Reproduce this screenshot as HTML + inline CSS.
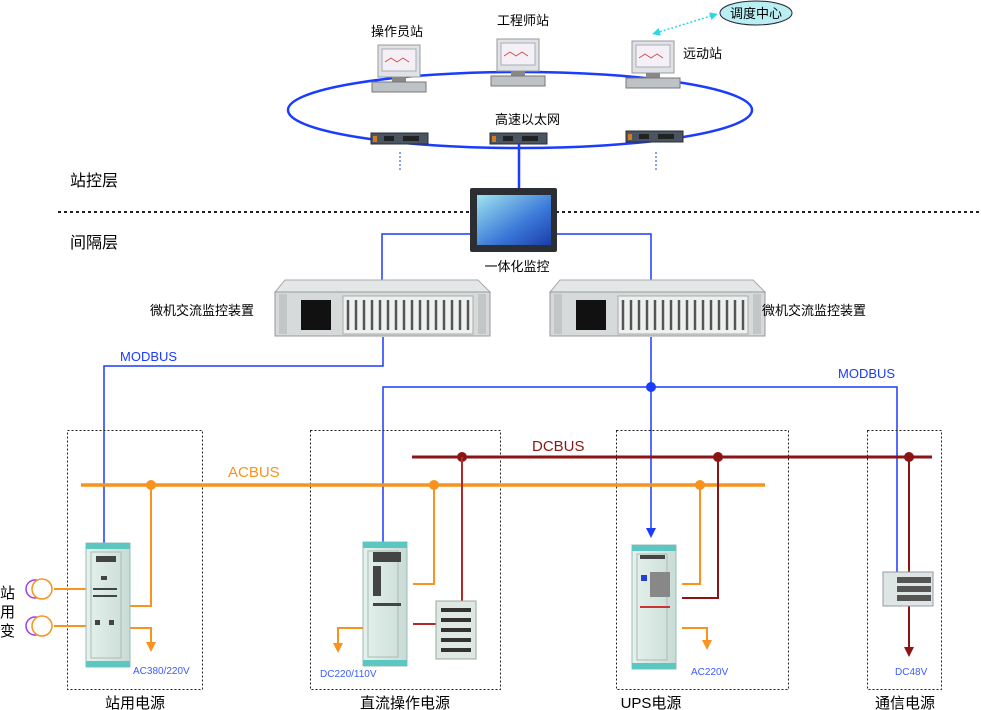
<!DOCTYPE html>
<html><head><meta charset="utf-8"><style>
html,body{margin:0;padding:0;background:#fff;width:981px;height:710px;overflow:hidden}
svg{display:block}
text{font-family:"Liberation Sans","Noto Sans CJK SC",sans-serif}
</style></head><body>
<svg width="981" height="710" viewBox="0 0 981 710" xmlns="http://www.w3.org/2000/svg">
<defs>
<marker id="ao" markerWidth="10" markerHeight="10" refX="5" refY="5" orient="auto" markerUnits="userSpaceOnUse"><path d="M0,0 L10,5 L0,10 z" fill="#f7931e"/></marker>
<marker id="ar" markerWidth="10" markerHeight="10" refX="5" refY="5" orient="auto" markerUnits="userSpaceOnUse"><path d="M0,0 L10,5 L0,10 z" fill="#8b1515"/></marker>
<marker id="ab" markerWidth="10" markerHeight="10" refX="5" refY="5" orient="auto" markerUnits="userSpaceOnUse"><path d="M0,0 L10,5 L0,10 z" fill="#1a3cff"/></marker>
<marker id="ac" markerWidth="8" markerHeight="8" refX="4" refY="4" orient="auto" markerUnits="userSpaceOnUse"><path d="M0,0 L8,4 L0,8 z" fill="#2bd6e6"/></marker>
<marker id="ac2" markerWidth="8" markerHeight="8" refX="4" refY="4" orient="auto-start-reverse" markerUnits="userSpaceOnUse"><path d="M0,0 L8,4 L0,8 z" fill="#2bd6e6"/></marker>
<linearGradient id="cab" x1="0" x2="1"><stop offset="0" stop-color="#e6f2ee"/><stop offset="1" stop-color="#c9dbd5"/></linearGradient>
<linearGradient id="scr" x1="0" y1="0" x2="1" y2="1"><stop offset="0" stop-color="#9fe3ef"/><stop offset="0.6" stop-color="#3b78d8"/><stop offset="1" stop-color="#1b3da8"/></linearGradient>
</defs>

<!-- top ring -->
<ellipse cx="520" cy="110" rx="232" ry="38" fill="none" stroke="#1a3cff" stroke-width="2.5"/>
<!-- computers -->
<g id="pc">
<rect x="378" y="45" width="42" height="32" fill="#dfe3e6" stroke="#999"/>
<rect x="382" y="49" width="34" height="22" fill="#f4f0f6" stroke="#aab"/>
<path d="M385,62 l6,-4 l6,4 l6,-4 l6,4" stroke="#c44" fill="none" stroke-width="0.8"/>
<rect x="392" y="77" width="14" height="5" fill="#888"/>
<rect x="372" y="82" width="54" height="10" fill="#bcc2c6" stroke="#777"/>
</g>
<use href="#pc" x="119" y="-6"/>
<use href="#pc" x="254" y="-4"/>
<!-- switches -->
<g id="sw"><rect x="371" y="133" width="57" height="11" fill="#4a5561" stroke="#2a2f35"/><rect x="373" y="136" width="4" height="6" fill="#d67a1e"/><rect x="384" y="136" width="10" height="5" fill="#222"/><rect x="403" y="136" width="16" height="5" fill="#222"/></g>
<use href="#sw" x="119" y="0"/>
<use href="#sw" x="255" y="-2"/>
<line x1="400" y1="152" x2="400" y2="172" stroke="#1a3cff" stroke-dasharray="2,2"/>
<line x1="656" y1="152" x2="656" y2="172" stroke="#1a3cff" stroke-dasharray="2,2"/>
<line x1="519" y1="144" x2="519" y2="190" stroke="#1a3cff" stroke-width="2.5"/>
<text x="371" y="36" font-size="13">操作员站</text>
<text x="497" y="25" font-size="13">工程师站</text>
<text x="683" y="58" font-size="13">远动站</text>
<text x="495" y="124" font-size="13">高速以太网</text>
<ellipse cx="756" cy="13" rx="36" ry="12" fill="#b9eef2" stroke="#223" stroke-width="1"/>
<text x="756" y="18" font-size="13" text-anchor="middle">调度中心</text>
<line x1="656" y1="33" x2="714" y2="15" stroke="#2bd6e6" stroke-width="1.5" stroke-dasharray="2,2" marker-start="url(#ac2)" marker-end="url(#ac)"/>

<text x="70" y="186" font-size="16">站控层</text>
<line x1="58" y1="212" x2="981" y2="212" stroke="#222" stroke-width="2" stroke-dasharray="3,3"/>
<text x="70" y="248" font-size="16">间隔层</text>

<!-- monitor -->
<rect x="470" y="188" width="87" height="64" fill="#2b2f33" rx="2"/>
<rect x="477" y="195" width="74" height="50" fill="url(#scr)"/>
<text x="517" y="271" font-size="13" text-anchor="middle">一体化监控</text>
<polyline points="470,234 382,234 382,280" fill="none" stroke="#1a3cff" stroke-width="1.5"/>
<polyline points="557,234 651,234 651,280" fill="none" stroke="#1a3cff" stroke-width="1.5"/>

<!-- rack devices -->
<g id="rk">
<path d="M285,280 L478,280 L490,292 L275,292 z" fill="#e4e7e8" stroke="#aaa"/>
<rect x="275" y="292" width="215" height="44" fill="#d7dadb" stroke="#999"/>
<rect x="279" y="294" width="8" height="40" fill="#c3c6c7"/>
<rect x="478" y="294" width="8" height="40" fill="#c3c6c7"/>
<rect x="301" y="300" width="30" height="30" fill="#111"/>
<rect x="343" y="296" width="130" height="38" fill="#eef0f0" stroke="#aaa"/>
<path d="M348,300 v30 M356,300 v30 M364,300 v30 M372,300 v30 M380,300 v30 M388,300 v30 M396,300 v30 M404,300 v30 M412,300 v30 M420,300 v30 M428,300 v30 M436,300 v30 M444,300 v30 M452,300 v30 M460,300 v30 M468,300 v30" stroke="#555" stroke-width="2.5"/>
</g>
<use href="#rk" x="275" y="0"/>
<text x="150" y="315" font-size="13">微机交流监控装置</text>
<text x="762" y="315" font-size="13">微机交流监控装置</text>

<!-- modbus -->
<polyline points="383,337 383,366 104,366 104,543" fill="none" stroke="#1a3cff" stroke-width="1.5"/>
<text x="120" y="361" font-size="13" fill="#1a3cff">MODBUS</text>
<line x1="651" y1="337" x2="651" y2="533" stroke="#1a3cff" stroke-width="1.5" marker-end="url(#ab)"/>
<polyline points="383,542 383,387 897,387 897,572" fill="none" stroke="#1a3cff" stroke-width="1.5"/>
<circle cx="651" cy="387" r="5" fill="#1a3cff"/>
<text x="838" y="378" font-size="13" fill="#1a3cff">MODBUS</text>

<!-- dotted boxes -->
<g fill="none" stroke="#222" stroke-width="1" stroke-dasharray="2,2">
<rect x="67.5" y="430.5" width="135" height="259"/>
<rect x="310.5" y="430.5" width="190" height="259"/>
<rect x="616.5" y="430.5" width="172" height="259"/>
<rect x="867.5" y="430.5" width="74" height="259"/>
</g>
<g font-size="15" text-anchor="middle">
<text x="135" y="708">站用电源</text>
<text x="405" y="708">直流操作电源</text>
<text x="651" y="708">UPS电源</text>
<text x="905" y="708">通信电源</text>
</g>

<!-- buses -->
<line x1="412" y1="457" x2="932" y2="457" stroke="#8b1515" stroke-width="3"/>
<text x="532" y="451" font-size="15" fill="#8b1515">DCBUS</text>
<line x1="81" y1="485" x2="765" y2="485" stroke="#f7931e" stroke-width="3.5"/>
<text x="228" y="477" font-size="15" fill="#f7931e">ACBUS</text>
<g fill="#8b1515"><circle cx="462" cy="457" r="5"/><circle cx="718" cy="457" r="5"/><circle cx="909" cy="457" r="5"/></g>
<g fill="#f7931e"><circle cx="151" cy="485" r="5"/><circle cx="434" cy="485" r="5"/><circle cx="700" cy="485" r="5"/></g>

<!-- cabinet 1 -->
<g fill="none" stroke="#f7931e" stroke-width="2">
<polyline points="151,485 151,606 130,606"/>
<polyline points="130,628 151,628 151,647" marker-end="url(#ao)"/>
<line x1="54" y1="589" x2="86" y2="589"/><line x1="54" y1="626" x2="86" y2="626"/>
</g>
<g fill="none" stroke-width="1.5">
<circle cx="35" cy="589" r="9" stroke="#9b3cf0"/><circle cx="42" cy="589" r="10" stroke="#f7931e" fill="#fff"/>
<circle cx="35" cy="626" r="9" stroke="#9b3cf0"/><circle cx="42" cy="626" r="10" stroke="#f7931e" fill="#fff"/>
</g>
<g font-size="15"><text x="0" y="598">站</text><text x="0" y="617">用</text><text x="0" y="636">变</text></g>
<g id="cb">
<rect x="86" y="543" width="44" height="124" fill="url(#cab)" stroke="#9bb"/>
<rect x="86" y="543" width="44" height="6" fill="#5cc6c0"/>
<rect x="86" y="661" width="44" height="6" fill="#5cc6c0"/>
<rect x="91" y="552" width="30" height="106" fill="none" stroke="#aabbb5"/>
</g>
<g fill="#444"><rect x="96" y="556" width="20" height="6"/><rect x="101" y="576" width="6" height="4"/>
<rect x="93" y="588" width="24" height="2"/><rect x="93" y="595" width="24" height="2"/>
<rect x="95" y="620" width="5" height="5"/><rect x="109" y="620" width="5" height="5"/></g>
<text x="133" y="674" font-size="10" fill="#3b5cff">AC380/220V</text>

<!-- cabinet 2 -->
<use href="#cb" x="277" y="-1"/>
<g fill="#444"><rect x="373" y="552" width="28" height="10"/><rect x="373" y="566" width="8" height="30"/><rect x="373" y="603" width="28" height="3"/></g>
<polyline points="434,485 434,584 413,584" fill="none" stroke="#f7931e" stroke-width="2"/>
<polyline points="363,628 338,628 338,648" fill="none" stroke="#f7931e" stroke-width="2" marker-end="url(#ao)"/>
<polyline points="462,457 462,601" fill="none" stroke="#b02a2a" stroke-width="2"/>
<line x1="413" y1="624" x2="436" y2="624" stroke="#b02a2a" stroke-width="2"/>
<rect x="436" y="601" width="40" height="58" fill="#dfe8e2" stroke="#9a9"/>
<g fill="#333"><rect x="441" y="608" width="30" height="4"/><rect x="441" y="618" width="30" height="4"/><rect x="441" y="628" width="30" height="4"/><rect x="441" y="638" width="30" height="4"/><rect x="441" y="648" width="30" height="4"/></g>
<text x="320" y="677" font-size="10" fill="#3b5cff">DC220/110V</text>

<!-- cabinet 3 UPS -->
<use href="#cb" x="546" y="2"/>
<g fill="#444"><rect x="640" y="555" width="25" height="4"/><rect x="641" y="575" width="6" height="6" fill="#2244cc"/><rect x="650" y="572" width="20" height="25" fill="#888"/><rect x="640" y="606" width="30" height="2" fill="#c33"/></g>
<polyline points="700,485 700,584 682,584" fill="none" stroke="#f7931e" stroke-width="2"/>
<polyline points="718,457 718,598 682,598" fill="none" stroke="#8b1515" stroke-width="2"/>
<polyline points="682,628 707,628 707,645" fill="none" stroke="#f7931e" stroke-width="2" marker-end="url(#ao)"/>
<text x="691" y="675" font-size="10" fill="#3b5cff">AC220V</text>

<!-- comm -->
<line x1="909" y1="457" x2="909" y2="652" stroke="#8b1515" stroke-width="2" marker-end="url(#ar)"/>
<rect x="883" y="572" width="50" height="34" fill="#dde6e3" stroke="#99a"/>
<g fill="#555"><rect x="897" y="577" width="34" height="6"/><rect x="897" y="586" width="34" height="6"/><rect x="897" y="595" width="34" height="6"/></g>
<text x="895" y="675" font-size="10" fill="#3b5cff">DC48V</text>
</svg>
</body></html>
